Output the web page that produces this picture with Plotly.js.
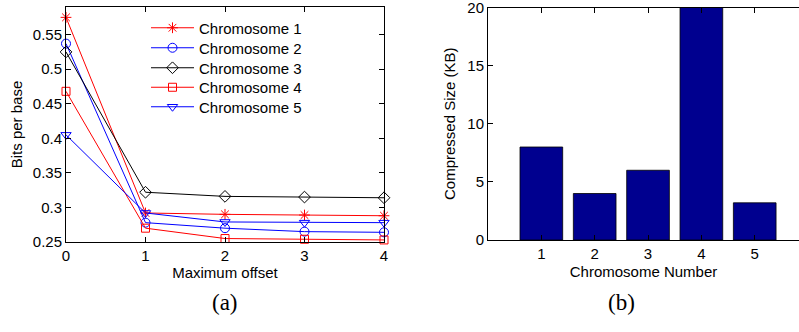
<!DOCTYPE html>
<html>
<head>
<meta charset="utf-8">
<script src="https://cdn.plot.ly/plotly-3.0.1.min.js"></script>
<style>
html,body{margin:0;padding:0;background:#fff;}
#chart{width:799px;height:332px;}
</style>
</head>
<body>
<div id="chart"></div>
<script>
// ---- Data ----
const offsets = [0, 1, 2, 3, 4];
const chr1 = [0.575, 0.292, 0.290, 0.289, 0.288];
const chr2 = [0.537, 0.278, 0.270, 0.265, 0.264];
const chr3 = [0.525, 0.322, 0.316, 0.315, 0.314];
const chr4 = [0.468, 0.270, 0.255, 0.254, 0.253];
const chr5 = [0.405, 0.292, 0.279, 0.278, 0.278];
const seriesNames = ['Chromosome 1', 'Chromosome 2', 'Chromosome 3', 'Chromosome 4', 'Chromosome 5'];

const chromosomes = [1, 2, 3, 4, 5];
const compressedKB = [8.0, 4.0, 6.0, 20.0, 3.2];

const leftYTicks = [0.25, 0.3, 0.35, 0.4, 0.45, 0.5, 0.55];
const leftYTickText = ['0.25', '0.3', '0.35', '0.4', '0.45', '0.5', '0.55'];
const rightYTicks = [0, 5, 10, 15, 20];

// ---- Styles ----
const styles = [
  {color: 'rgb(255,0,0)', symbol: 'asterisk-open', size: 9},
  {color: 'rgb(0,0,255)', symbol: 'circle-open', size: 9},
  {color: 'rgb(0,0,0)', symbol: 'diamond-open', size: 9},
  {color: 'rgb(255,0,0)', symbol: 'square-open', size: 8},
  {color: 'rgb(0,0,255)', symbol: 'triangle-down-open', size: 9}
];
const seriesData = [chr1, chr2, chr3, chr4, chr5];
const legendIds = ['legend', 'legend2', 'legend3', 'legend4', 'legend5'];
const legendCentersPx = [28, 48, 68, 87.5, 107];

const traces = seriesData.map((ys, i) => ({
  type: 'scatter',
  mode: 'lines+markers',
  x: offsets,
  y: ys,
  name: seriesNames[i],
  legend: legendIds[i],
  xaxis: 'x',
  yaxis: 'y',
  line: {color: styles[i].color, width: 1},
  marker: {symbol: styles[i].symbol, size: styles[i].size, color: styles[i].color,
           line: {color: styles[i].color, width: 1}},
  cliponaxis: false
}));

traces.push({
  type: 'bar',
  x: chromosomes,
  y: compressedKB,
  xaxis: 'x2',
  yaxis: 'y2',
  width: 0.8,
  marker: {color: 'rgb(0,0,143)', line: {color: 'rgb(0,0,0)', width: 0.8}},
  showlegend: false
});

const W = 799, H = 332;
const font = {family: "'Liberation Sans', Arial, Helvetica, sans-serif", size: 15, color: '#000'};
const axBase = {
  showgrid: false, zeroline: false, showline: true, linecolor: '#000', linewidth: 1,
  ticks: 'inside', ticklen: 5, tickcolor: '#000', tickwidth: 1,
  tickfont: font, fixedrange: true, ticklabeloverflow: 'allow'
};

const layout = {
  width: W, height: H,
  margin: {l: 0, r: 0, t: 0, b: 0},
  paper_bgcolor: '#fff', plot_bgcolor: '#fff',
  font: font,
  showlegend: true,
  xaxis: Object.assign({}, axBase, {
    domain: [66 / W, 384 / W], range: [0, 4], tickvals: offsets,
    mirror: 'allticks', anchor: 'y',
    title: {text: 'Maximum offset', font: font, standoff: 4}
  }),
  yaxis: Object.assign({}, axBase, {
    domain: [1 - 242 / H, 1 - 7 / H], range: [0.25, 0.59],
    tickvals: leftYTicks, ticktext: leftYTickText,
    mirror: 'allticks', anchor: 'x',
    title: {text: 'Bits per base', font: font, standoff: 6}
  }),
  xaxis2: Object.assign({}, axBase, {
    domain: [488 / W, 1], range: [0, 5.83], tickvals: chromosomes,
    mirror: 'allticks', anchor: 'y2',
    title: {text: 'Chromosome Number', font: font, standoff: 5}
  }),
  yaxis2: Object.assign({}, axBase, {
    domain: [1 - 240 / H, 1 - 7.5 / H], range: [0, 20.0001],
    tickvals: rightYTicks, mirror: false, anchor: 'x2',
    title: {text: 'Compressed Size (KB)', font: font, standoff: 8}
  }),
  annotations: [
    {text: '(a)', x: 210 / W, y: 1 - 317 / H, xref: 'paper', yref: 'paper',
     showarrow: false, font: {family: "'Liberation Serif', 'DejaVu Serif', serif", size: 23, color: '#000'}},
    {text: '(b)', x: 637 / W, y: 1 - 317 / H, xref: 'paper', yref: 'paper',
     showarrow: false, font: {family: "'Liberation Serif', 'DejaVu Serif', serif", size: 23, color: '#000'}}
  ]
};

legendIds.forEach((id, i) => {
  layout[id] = {
    x: 146 / W, y: 1 - legendCentersPx[i] / H, xanchor: 'left', yanchor: 'middle',
    bgcolor: 'rgba(0,0,0,0)', borderwidth: 0, itemwidth: 43,
    font: font, tracegroupgap: 0
  };
});

Plotly.newPlot('chart', traces, layout, {staticPlot: true, displayModeBar: false});
</script>
</body>
</html>
